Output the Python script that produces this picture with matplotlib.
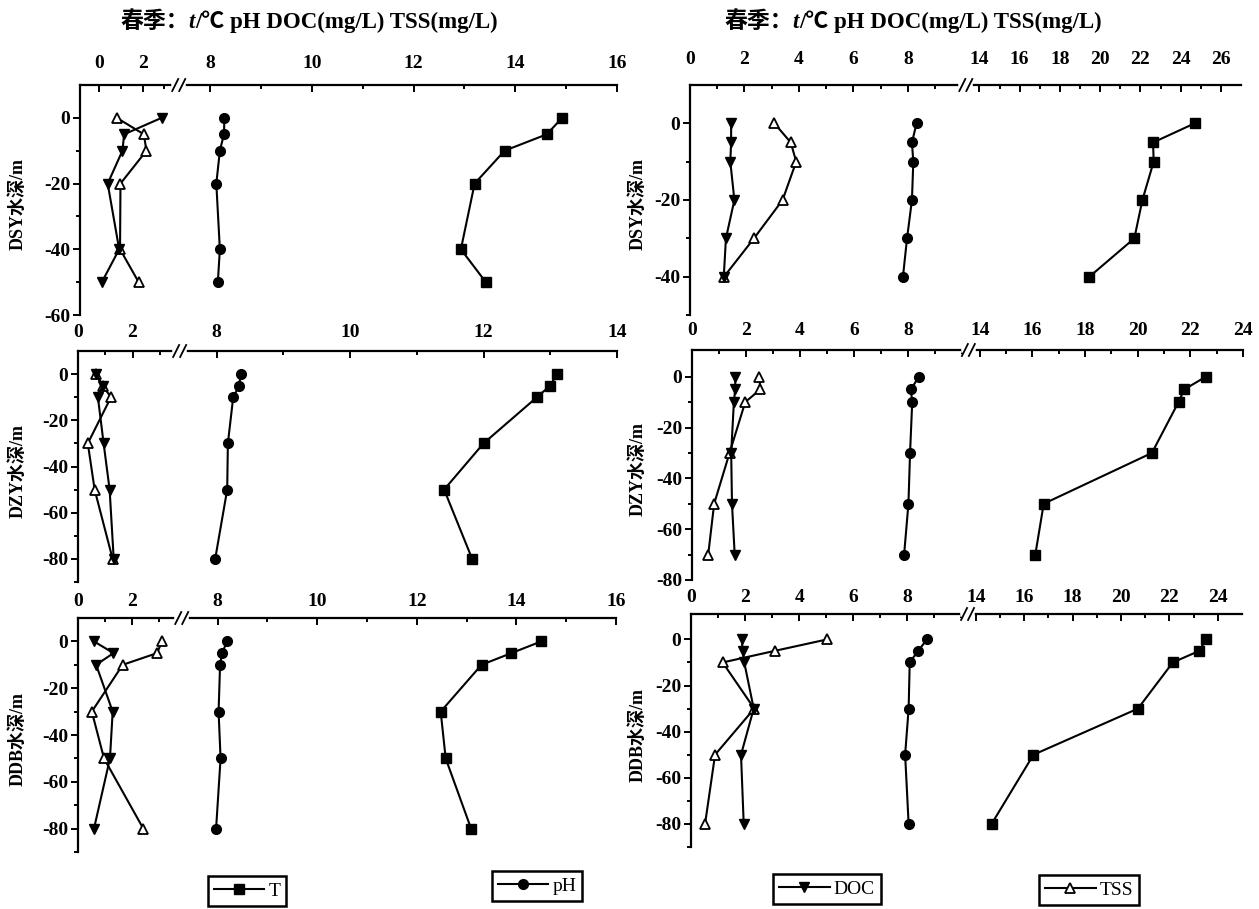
import numpy as np
import matplotlib
matplotlib.use("Agg")
import matplotlib.pyplot as plt
from matplotlib.lines import Line2D
from matplotlib.ticker import FixedLocator

plt.rcParams['axes.unicode_minus'] = False
SERIF = ['Liberation Serif', 'Noto Sans CJK SC', 'DejaVu Sans']
CJK = ['Noto Sans CJK SC', 'Liberation Serif', 'DejaVu Sans']

# ---------------- data ----------------
title_text = "/℃ pH DOC(mg/L) TSS(mg/L)"
series_names = ["T", "pH", "DOC", "TSS"]

# Left column
TL_depth = [0, -5, -10, -20, -40, -50]
TL_T = [14.92, 14.62, 13.79, 13.20, 12.93, 13.42]
TL_pH = [8.28, 8.27, 8.19, 8.12, 8.19, 8.15]
TL_DOC = [2.87, 1.14, 1.06, 0.38, 0.91, 0.11]
TL_TSS = [0.80, 2.05, 2.17, 0.97, 0.95, 1.81]

ML_depth = [0, -5, -10, -30, -50, -80]
ML_T = [13.10, 13.00, 12.80, 12.00, 11.41, 11.83]
ML_pH = [8.36, 8.34, 8.25, 8.17, 8.16, 7.98]
ML_DOC = [0.66, 0.90, 0.73, 0.94, 1.16, 1.31]
ML_TSS = [0.66, 0.90, 1.21, 0.36, 0.61, 1.27]

BL_depth = [0, -5, -10, -30, -50, -80]
BL_T = [14.50, 13.90, 13.30, 12.48, 12.58, 13.09]
BL_pH = [8.19, 8.09, 8.05, 8.02, 8.06, 7.97]
BL_DOC = [0.59, 1.31, 0.67, 1.28, 1.18, 0.59]
BL_TSS = [3.10, 2.92, 1.65, 0.51, 0.96, 2.41]

# Right column
TR_depth = [0, -5, -10, -20, -30, -40]
TR_T = [24.70, 22.63, 22.66, 22.10, 21.70, 19.47]
TR_pH = [8.32, 8.15, 8.20, 8.15, 7.97, 7.82]
TR_DOC = [1.51, 1.51, 1.48, 1.63, 1.32, 1.24]
TR_TSS = [3.10, 3.70, 3.90, 3.40, 2.35, 1.25]

MR_depth = [0, -5, -10, -30, -50, -70]
MR_T = [22.59, 21.77, 21.55, 20.54, 16.43, 16.11]
MR_pH = [8.40, 8.10, 8.15, 8.07, 8.01, 7.85]
MR_DOC = [1.60, 1.60, 1.55, 1.45, 1.48, 1.58]
MR_TSS = [2.49, 2.53, 1.97, 1.39, 0.82, 0.60]

BR_depth = [0, -5, -10, -30, -50, -80]
BR_T = [23.52, 23.23, 22.14, 20.70, 16.38, 14.65]
BR_pH = [8.73, 8.40, 8.09, 8.05, 7.92, 8.05]
BR_DOC = [1.88, 1.91, 1.97, 2.32, 1.85, 1.95]
BR_TSS = [5.04, 3.09, 1.17, 2.34, 0.89, 0.52]

# tick labels
L_xticks_a = [0, 2, 8, 10, 12, 14, 16]
L_xticks_b = [0, 2, 8, 10, 12, 14]
R_xticks_a = [0, 2, 4, 6, 8, 14, 16, 18, 20, 22, 24, 26]
R_xticks_b = [0, 2, 4, 6, 8, 14, 16, 18, 20, 22, 24]
yticks_50 = [0, -20, -40]
yticks_60 = [0, -20, -40, -60]
yticks_80 = [0, -20, -40, -60, -80]
station_labels = ["DSY水深/m", "DZY水深/m", "DDB水深/m"]

# ---------------- layout ----------------
W, H = 1259, 909
fig = plt.figure(figsize=(W / 100, H / 100), dpi=100)


def rect(x0, y0, x1, y1):
    return [x0 / W, 1 - y1 / H, (x1 - x0) / W, (y1 - y0) / H]


def make_scale(xmin, lend, rstart, kL, kR, gap):
    a = (lend - xmin) * kL

    def fwd(x):
        x = np.asarray(x, float)
        return np.where(x <= lend, (x - xmin) * kL,
                        np.where(x >= rstart, a + gap + (x - rstart) * kR,
                                 a + (x - lend) / (rstart - lend) * gap))

    def inv(y):
        y = np.asarray(y, float)
        return np.where(y <= a, y / kL + xmin,
                        np.where(y >= a + gap, rstart + (y - a - gap) / kR,
                                 lend + (y - a) / gap * (rstart - lend)))
    return fwd, inv


panels = [
    dict(r=(80, 85, 617, 315), sc=(-0.9, 3.5, 7.45, 16, 21.6, 50.75), yl=(-60, 10),
         xt=L_xticks_a, yt=yticks_60, pad=9,
         d=(TL_depth, TL_T, TL_pH, TL_DOC, TL_TSS), lab=station_labels[0], lx=18),
    dict(r=(78, 351, 617, 582), sc=(0, 3.6, 7.5, 14, 27.2, 66.6), yl=(-90, 10),
         xt=L_xticks_b, yt=yticks_80, pad=7,
         d=(ML_depth, ML_T, ML_pH, ML_DOC, ML_TSS), lab=station_labels[1], lx=18),
    dict(r=(78, 618, 616, 852), sc=(0, 3.7, 7.35, 16, 27.2, 50.0), yl=(-90, 10),
         xt=L_xticks_a, yt=yticks_80, pad=6,
         d=(BL_depth, BL_T, BL_pH, BL_DOC, BL_TSS), lab=station_labels[2], lx=18),
    dict(r=(690, 85, 1241, 315), sc=(0, 10.0, 13.5, 27, 27.2, 20.1), yl=(-50, 10),
         xt=R_xticks_a, yt=yticks_50, pad=12,
         d=(TR_depth, TR_T, TR_pH, TR_DOC, TR_TSS), lab=station_labels[0], lx=638),
    dict(r=(692, 350, 1243, 580), sc=(0, 10.1, 13.7, 24, 27.2, 26.5), yl=(-80, 10.5),
         xt=R_xticks_b, yt=yticks_80, pad=8,
         d=(MR_depth, MR_T, MR_pH, MR_DOC, MR_TSS), lab=station_labels[1], lx=638),
    dict(r=(691, 614, 1242, 847), sc=(0, 10.1, 13.8, 25, 27.1, 24.25), yl=(-90, 11),
         xt=R_xticks_b, yt=yticks_80, pad=6,
         d=(BR_depth, BR_T, BR_pH, BR_DOC, BR_TSS), lab=station_labels[2], lx=638),
]

GAP = 7
line_kw = dict(color='black', lw=1.5, markersize=7, clip_on=False)

for p in panels:
    ax = fig.add_axes(rect(*p['r']))
    xmin, lend, rstart, xmax, kL, kR = p['sc']
    ax.set_xscale('function', functions=make_scale(xmin, lend, rstart, kL, kR, GAP))
    ax.set_xlim(xmin, xmax)
    ax.set_ylim(*p['yl'])
    depth, T, pH, DOC, TSS = p['d']
    ax.plot(T, depth, marker='s', **line_kw)
    ax.plot(pH, depth, marker='o', **line_kw)
    ax.plot(TSS, depth, marker='^', markerfacecolor='white', markeredgecolor='black',
            markeredgewidth=1.3, **line_kw)
    ax.plot(DOC, depth, marker='v', **line_kw)

    for s in ('right', 'bottom'):
        ax.spines[s].set_visible(False)
    for s in ('top', 'left'):
        ax.spines[s].set_linewidth(1.6)

    ax.xaxis.tick_top()
    ax.set_xticks(p['xt'])
    ax.set_xticklabels([str(v) for v in p['xt']])
    minors = [v for v in range(int(np.floor(xmin)) + 1, int(xmax))
              if v not in p['xt'] and (v < lend or v > rstart)]
    ax.xaxis.set_minor_locator(FixedLocator(minors))
    ax.tick_params(axis='x', which='both', direction='in', top=True, bottom=False,
                   labeltop=True, labelbottom=False, width=1.4, pad=p['pad'])
    ax.tick_params(axis='x', which='major', length=5)
    ax.tick_params(axis='x', which='minor', length=3)

    ax.set_yticks(p['yt'])
    ax.set_yticklabels([str(v) for v in p['yt']])
    ymin = p['yl'][0]
    ax.yaxis.set_minor_locator(FixedLocator([v for v in range(0, int(ymin) - 1, -10)
                                             if v not in p['yt']]))
    ax.tick_params(axis='y', which='both', direction='out', width=1.4, pad=2)
    ax.tick_params(axis='y', which='major', length=5)
    ax.tick_params(axis='y', which='minor', length=3)

    for lbl in ax.get_xticklabels() + ax.get_yticklabels():
        lbl.set_fontfamily(SERIF)
        lbl.set_fontweight('bold')
        lbl.set_fontsize(14)

    # y label
    x0, y0, x1, y1 = p['r']
    fig.text(p['lx'] / W, 1 - ((y0 + y1) / 2 + 4) / H, p['lab'], rotation=90,
             ha='center', va='center', family=SERIF, fontsize=13, fontweight='bold')

    # axis break marks on the top spine
    tr = ax.get_xaxis_transform()
    pa = tr.transform((lend, 1.0))
    pb = tr.transform((rstart, 1.0))
    inv = fig.transFigure.inverted()
    q0 = inv.transform((pa[0] - 1, pa[1]))
    q1 = inv.transform((pb[0] + 1, pb[1]))
    fig.add_artist(Line2D([q0[0], q1[0]], [q0[1], q1[1]], color='white', lw=4, zorder=10))
    for px in (pa[0], pb[0]):
        s0 = inv.transform((px - 3, pa[1] - 6))
        s1 = inv.transform((px + 3, pa[1] + 6))
        fig.add_artist(Line2D([s0[0], s1[0]], [s0[1], s1[1]], color='black', lw=1.3, zorder=11))

# titles
renderer = fig.canvas.get_renderer()
for x_start in (120, 724):
    x = x_start / W
    y = 1 - 28 / H
    pieces = [("春季：", dict(family=CJK, fontweight='bold')),
              ("t", dict(family=SERIF, fontweight='bold', fontstyle='italic')),
              (title_text, dict(family=SERIF, fontweight='bold'))]
    for s, kw in pieces:
        t = fig.text(x, y, s, ha='left', va='baseline', fontsize=16.5, **kw)
        bb = t.get_window_extent(renderer)
        x = bb.x1 / fig.bbox.width

# legends
markers = {"T": dict(marker='s'), "pH": dict(marker='o'), "DOC": dict(marker='v'),
           "TSS": dict(marker='^', markerfacecolor='white', markeredgewidth=1.3)}
leg_pos = {"T": (247, 891), "pH": (537, 886), "DOC": (827, 889), "TSS": (1089, 890)}
for name in series_names:
    h = Line2D([], [], color='black', lw=1.5, markersize=7, **markers[name])
    cx, cy = leg_pos[name]
    leg = fig.legend([h], [name], loc='center', bbox_to_anchor=(cx / W, 1 - cy / H),
                     frameon=True, fancybox=False, edgecolor='black', framealpha=1,
                     handlelength=2.6, handletextpad=0.2, borderpad=0.3,
                     prop=dict(family=SERIF, size=14))
    leg.get_frame().set_linewidth(1.8)

fig.savefig("out.png", dpi=100)
